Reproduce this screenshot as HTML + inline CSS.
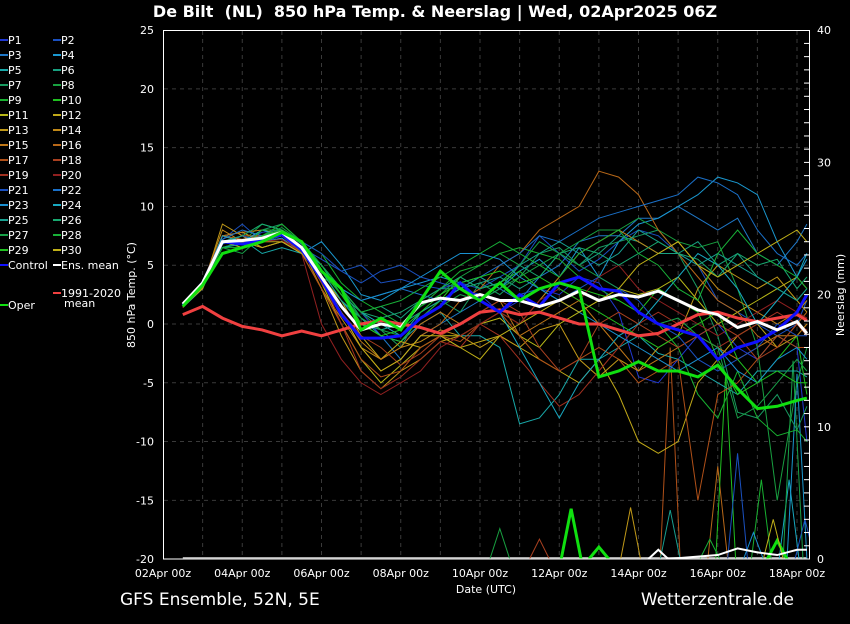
<!DOCTYPE html>
<html><head><meta charset="utf-8">
<style>
html,body{margin:0;padding:0;background:#000;}
body{width:850px;height:620px;overflow:hidden;font-family:"DejaVu Sans","Liberation Sans",sans-serif;}
svg text{font-family:"DejaVu Sans","Liberation Sans",sans-serif;fill:#fff;}
</style></head>
<body>
<svg id="chart" width="850" height="620" viewBox="0 0 850 620" xmlns="http://www.w3.org/2000/svg">
<rect width="850" height="620" fill="#000"/>
<text x="435" y="17" font-size="16" font-weight="bold" text-anchor="middle" style="white-space:pre">De Bilt&#160; (NL)&#160; 850 hPa Temp. &amp; Neerslag | Wed, 02Apr2025 06Z</text>
<g id="grid"></g>
<g id="precip"></g>
<g id="temps"></g>
<rect x="163.5" y="30.5" width="646" height="528.5" fill="none" stroke="#fff" stroke-width="1"/>
<g id="axes"></g>
<text transform="translate(135,295) rotate(-90)" font-size="11" text-anchor="middle">850 hPa Temp. (°C)</text>
<text transform="translate(844,295) rotate(-90)" font-size="11" text-anchor="middle">Neerslag (mm)</text>
<text x="486" y="593" font-size="11" text-anchor="middle">Date (UTC)</text>
<text x="120" y="605" font-size="17">GFS Ensemble, 52N, 5E</text>
<text x="794" y="605" font-size="17" text-anchor="end">Wetterzentrale.de</text>
<g id="legend"></g>
</svg>
<script>
// time axis in days after 02Apr 00z
const days = [0.5,1,1.5,2,2.5,3,3.5,4,4.5,5,5.5,6,6.5,7,7.5,8,8.5,9,9.5,10,10.5,11,11.5,12,12.5,13,13.5,14,14.5,15,15.5,16,16.25];
const xTickLabels = ["02Apr 00z","04Apr 00z","06Apr 00z","08Apr 00z","10Apr 00z","12Apr 00z","14Apr 00z","16Apr 00z","18Apr 00z"];
const xTickDays = [0,2,4,6,8,10,12,14,16];
const yTicks = [25,20,15,10,5,0,-5,-10,-15,-20];
const y2Ticks = [40,30,20,10,0];

const memberNames = ["P1","P2","P3","P4","P5","P6","P7","P8","P9","P10","P11","P12","P13","P14","P15","P16","P17","P18","P19","P20","P21","P22","P23","P24","P25","P26","P27","P28","P29","P30"];
const memberColors = ["#2038d0","#1a50c0","#1f78c8","#1a98d0","#18a8a8","#18a080","#189a60","#18a040","#18b030","#20c020","#b8b818","#c0a818","#c09818","#c08818","#c07818","#b86818","#b05018","#a84020","#a03020","#902020","#1a50c0","#1a70c8","#1a90d0","#18a8c0","#18a090","#18a870","#18a048","#18b038","#20c020","#c0b018"];

const p1 = [1.5,3.2,7.5,7,7.8,8,6.8,5,3,1,-1,-1.5,0.5,2,3,2.5,1,2,3,2.5,4,3.5,1,-4.5,-5,-3,-1,0,-2,-3,-1,-2,-10];
const p2 = [1.8,3.6,7.2,8.5,7,7.5,6.5,5.5,4.5,5,3.5,3.8,3.3,3,3.5,3,4,5,7.5,6,4.5,5.5,7,8,7.5,6,5,2,1,0,-1,0,2];
const p3 = [1.6,3.4,7,7.5,6.5,7,6,4.5,2,0,-1,-3,-1,0,1,2,3,2,4,5,7,7.5,7.5,9,9,10,9,8,9,6,5,7,8.5];
const p4 = [1.4,3,6.8,7.5,7,7.3,6,7,5,2.5,2,3,3.5,4,3.5,4,3,4.5,5.5,4,6.5,4,7,8.5,9,10,11,12.5,12,11,7,4,5.5];
const p5 = [1.5,3.3,7,7.2,6,6.5,6,4,2,0.5,-1,-1.5,0,1,-1,-1,-2,-8.5,-8,-6,-3,-3,-2,-1,-2.5,-3,-4,-5,-6,-4,-4,-4,-4.5];
const p6 = [1.7,3.5,6.5,7,7.5,8,6,4.5,2.5,1,1.5,0.5,2,3,3,3.5,4,3,4,6,5,6,7.5,7,6,6,7,5,6,4,3,2,3];
const p7 = [1.6,3.1,6,6.5,8,8.5,7,5,3,0.5,-0.5,-2,1,2,1,3.5,2.5,4,6,6.5,5,6.5,7,7.5,8,6,3,-1,-7.5,-8,-6,-9,-7];
const p8 = [1.5,3.4,6.5,7,8.5,8,7,4.5,3,1,-0.5,0,1.5,2.5,4,5,6,5,7,6,7,8,8,9,8,7,6.5,7,3,-2,-15,-5,-2];
const p9 = [1.7,3.6,7,6.5,7.5,8.5,7,6,3.5,2,1,0,1.5,3,4.5,5,6,6.5,6,5.5,4,3,2,1,0,-2,-6,-8,-4,-8,-9.5,-9,-10];
const p10 = [1.8,3.5,6,6.5,7,7.5,7,4,3,0,-1,-1.5,0.5,2,4,3,3.5,4.5,3,2,3,2.5,2,1,3,2,1,-3,-6,-5,-3,-1,-6];
const p11 = [1.5,3,7,6.5,7,7.5,6.5,3.5,0,-3,-5,-3.5,-2,-1,-1,0,0.5,-1,-2,0,1,2,3,2.5,3,4,2,0,1,2,3,4,3];
const p12 = [1.6,3.3,7.5,7.8,7,7,6,4,2,-1,-3,-1.5,-2,-1,-2,-1.5,-1,-2,-3,-4,-5,-3,-6,-10,-11,-10,-5,-3,-1,0,-2,-1,0];
const p13 = [1.4,3.1,8.5,7.5,6.5,7,6,3,-1,-4,-5.5,-4,-3,-1.5,-1,-2,-1,-2,-0.5,0,-3,-4.5,-3,-4,-2,-1,3,5,4,3,4,2,1];
const p14 = [1.5,3.4,8,7,7.5,7.5,6.5,3,0.5,-2,-3,-2,-1.5,-0.5,-1,0,1,0,2,4,6,7,8,7,6,7,5,3,2,1,0,1,2];
const p15 = [1.7,3.5,7.5,7.8,8,7.6,6,4,1,-1.5,-3,-2,0,1,0,1,2,-1,0,1,2,0,-2,-4,-3,-2,-1,-2,-3,-2,-1,-1,0];
const p16 = [1.6,3.6,7.5,7.2,7.5,7.7,6.5,3.5,1,-2,-4,-3,-1,0,2,3,5,6,8,9,10,13,12.5,11,8,6,4,2,1,-1,-2,0,1];
const p17 = [1.5,3.3,7,7.5,7.5,7.5,6,3,0,-3,-4.5,-4,-2,-1,-1.5,0,1,-1,-3,-4,-3,-2,-3,-5,-4,-3,-15,-6,-5,-3,-1,-2,-2];
const p18 = [1.6,3.4,7.5,7,7,7.8,6.5,3.5,1,-1,-2,-3.5,-2.5,-1,0,1,2,1,-2,-4,-3,0,1,0,-1,-2,-1,0,-1,-3,-2,0,-1];
const p19 = [1.4,3.2,7,7,6.5,7,6.5,4,0,-4,-5.5,-4.5,-3,-1.5,-2,0,-1,-3,-5,-7,-6,-4,-2,0,1,0,-1,-2,-1,0,1,0,-0.5];
const p20 = [1.5,3.5,7.5,7,7,7.2,6,0,-3,-5,-6,-5,-4,-2,-1,0,1,0,2,3,2,4,5,3,2,1,0,-1,0,1,2,1,0.5];
const p21 = [1.6,3.6,7,7.5,7,7.5,7,6,4.5,3.5,4.5,5,4,3.5,3,2,1,2.5,3,2,3,4,3,2,0,-1,-3,-4,-3,-2,0,-1,-1];
const p22 = [1.7,3.5,7.2,8,7.5,7.8,6.5,5,3,2,2.5,3,2.5,2,3,4,5,6,7.5,7,8,9,9.5,10,10.5,11,12.5,12,11,8,6,5,6];
const p23 = [1.5,3.2,7,7,7.5,8,6.5,4.5,3,2,2.5,3,4,5,6,6,5.5,4,3,2,1,0,-1,-2,-3,-4,-3,-2,-4,-5,-3,-2,-3];
const p24 = [1.6,3.4,7.5,7,8,7.5,6.5,5,3,1,0,-1,1,2,3,2,1,-2,-5,-8,-5,-3,-1,0,2,4,6,5,3,0,2,4,6];
const p25 = [1.5,3.3,6.5,6.8,7.5,8,6.8,4.5,2,0,-0.5,0,1,2,3,4,3,5,6,7,6,5,6,8,7,6,5,6,5,4,3,2,3];
const p26 = [1.7,3.5,7,7.5,8.5,8,7,5,2.5,1,0.5,1,2,3,4,3,3.5,5,4,6,6.5,6,5,6,7,6,5.5,4,6,5,5.5,3,4];
const p27 = [1.6,3.4,6.5,6,7.5,8.2,7,4.5,2.5,0.5,-0.5,-1,0.5,1.5,2.5,2,3,4,5,6,5,4,3,1,0,0.5,-1,-2,-8,-7,-5,-3,-4];
const p28 = [1.5,3.3,6.5,6.5,8,8,7,5,3,1,1.5,2,3,4,5,6,7,6,5,4,6,7,8,6,5,3,2,6,8,6,5,4,3];
const p29 = [1.6,3.5,6,6.5,7.5,8,7,4.5,2.5,0,-1,-0.5,1,2.5,3.5,4,4.5,3.5,4,3,2,1,0,-1,-2,-1,0,1,-3,-5,-4,-5,-5];
const p30 = [1.5,3.3,7,7,6.5,7,6,4,1,-2,-4,-3,-1,-1,-2,-3,-1,0,1,2,1,2,3,5,6,7,5,4,5,6,7,8,7];
const members = [p1,p2,p3,p4,p5,p6,p7,p8,p9,p10,p11,p12,p13,p14,p15,p16,p17,p18,p19,p20,p21,p22,p23,p24,p25,p26,p27,p28,p29,p30];

const climMean = [0.8,1.5,0.5,-0.2,-0.5,-1,-0.6,-1,-0.5,0,0.3,0,-0.3,-0.8,0,1,1.2,0.8,1,0.5,0,0,-0.5,-1,-0.8,0,0.8,1,0.5,0.2,0.5,0.8,0.3];
const control = [1.6,3.5,7,6.8,7.2,7.6,6.3,3.8,0.8,-1.2,-1.2,-1.0,0.5,1.5,3.5,2,1,2.5,1.5,3.5,4,3,2.8,1,0,-0.5,-1,-3,-2,-1.5,-0.5,1,2.5];
const ensMean = [1.7,3.5,7,7.1,7.3,7.8,6.5,4,1.5,-0.5,0,-0.3,1.8,2.2,2,2.5,2,2,1.5,2,2.8,2,2.5,2.3,2.8,2,1.2,0.8,-0.3,0.2,-0.5,0.2,-0.8];
const oper = [1.5,3.3,6,6.5,7,7.8,7,4.5,3,-0.5,0.5,-0.5,2,4.5,3,2,3.5,2,3,3.5,3,-4.5,-4,-3.2,-4,-4,-4.5,-3.5,-5.5,-7.2,-7,-6.5,-6.3];

// precipitation spikes (mm): which member index (0-29), or -1 oper
const precipMember = [7,17,-1,12,16,24,15,9,20,8,23,26,3,-1,-1,20,29,22,27];
const precipDay = [8.5,9.5,10.3,11.8,12.8,12.8,14.0,14.2,14.5,15.1,15.8,15.9,16.0,11.0,15.5,16.2,15.4,14.9,13.8];
const precipMM = [2.3,1.5,3.8,3.9,16,3.7,7,14,8,6,6,15,14,0.9,1.4,3,3,2,1.5];
const meanPrecipDay = [12.25,12.5,12.75,14.0,14.5,15.0,15.5,16.0,16.25];
const meanPrecipMM = [0,0.7,0,0.3,0.8,0.5,0.3,0.7,0.7];

const X0=163, PXD=39.625, Y0=324, PXT=11.756, YP0=559, PXP=13.22;
const xs = d => X0 + d*PXD;
const ys = t => Y0 - t*PXT;
const yp = p => YP0 - p*PXP;
const NS="http://www.w3.org/2000/svg";
function mk(tag, parent, attrs){const e=document.createElementNS(NS,tag);for(const k in attrs)e.setAttribute(k,attrs[k]);parent.appendChild(e);return e;}

const grid=document.getElementById('grid');
for(let d=1; d<=16; d++){
  const l=mk('line',grid,{x1:xs(d),x2:xs(d),y1:31,y2:558,stroke:'#3a3a3a','stroke-dasharray':'4,4'});
  
  
}
yTicks.forEach(t=>{ if(t===25||t===-20)return;
  const l=mk('line',grid,{x1:164,x2:809,y1:ys(t),y2:ys(t),stroke:'#3a3a3a','stroke-dasharray':'4,4'});
  
  
});

const axes=document.getElementById('axes');
yTicks.forEach(t=>{
  const tx=mk('text',axes,{x:154,y:ys(t)+4,'font-size':11,'text-anchor':'end'});tx.textContent=t;
  
  
});
y2Ticks.forEach(p=>{
  const tx=mk('text',axes,{x:817,y:yp(p)+4,'font-size':11});tx.textContent=p;
  
  
});
for(let p=1;p<40;p++){
  const l=mk('line',axes,{x1:804,x2:810,y1:yp(p),y2:yp(p),stroke:'#fff'});
  
  
}
xTickDays.forEach((d,i)=>{
  const tx=mk('text',axes,{x:xs(d),y:577,'font-size':11,'text-anchor':'middle'});tx.textContent=xTickLabels[i];
  
  
});

function pts(arr){return arr.map((v,i)=>xs(days[i]).toFixed(1)+','+ys(v).toFixed(1)).join(' ');}
const temps=document.getElementById('temps');
temps.setAttribute('clip-path','url(#clip)');
const defs=mk('defs',document.getElementById('chart'),{});
const cp=mk('clipPath',defs,{id:'clip'});mk('rect',cp,{x:164,y:31,width:645,height:528});

members.forEach((m,i)=>{
  const pl=mk('polyline',temps,{points:pts(m),fill:'none',stroke:memberColors[i],'stroke-width':1});
  
  
});
const clim=mk('polyline',temps,{points:pts(climMean),fill:'none',stroke:'#f04040','stroke-width':3});


const ctl=mk('polyline',temps,{points:pts(control),fill:'none',stroke:'#1010ff','stroke-width':3});


const mn=mk('polyline',temps,{points:pts(ensMean),fill:'none',stroke:'#ffffff','stroke-width':3});


const op=mk('polyline',temps,{points:pts(oper),fill:'none',stroke:'#10e010','stroke-width':3});



const precip=document.getElementById('precip');
precip.setAttribute('clip-path','url(#clip)');
const base=mk('line',precip,{x1:xs(0.5),x2:xs(16.25),y1:yp(0)-1,y2:yp(0)-1,stroke:'#aaaaaa','stroke-width':2});


precipMember.forEach((m,i)=>{
  const d=precipDay[i], v=precipMM[i];
  const col = m<0 ? '#10e010' : memberColors[m];
  const pl=mk('polyline',precip,{points:`${xs(d-0.25)},${yp(0)} ${xs(d)},${yp(v)} ${xs(d+0.25)},${yp(0)}`,fill:'none',stroke:col,'stroke-width':m<0?3:1});
  
  
});
const mp=mk('polyline',precip,{points:meanPrecipDay.map((d,i)=>xs(d)+','+yp(meanPrecipMM[i])).join(' '),fill:'none',stroke:'#fff','stroke-width':2});



// legend
const leg=document.getElementById('legend');
memberNames.forEach((n,i)=>{
  const col=i%2, row=Math.floor(i/2);
  const lx = col===0?0:53, ly = 40+row*15;
  const g=mk('g',leg,{});
  
  
  mk('line',g,{x1:lx,x2:lx+8,y1:ly,y2:ly,stroke:memberColors[i],'stroke-width':2});
  const t=mk('text',g,{x:lx+8,y:ly+4,'font-size':11});t.textContent=n;
});
function extra(name,lx,ly,col,label,label2){
  const g=mk('g',leg,{});
  
  
  mk('line',g,{x1:lx,x2:lx+8,y1:ly,y2:ly,stroke:col,'stroke-width':2});
  const t=mk('text',g,{x:lx+8,y:ly+4,'font-size':11});t.textContent=label;
  if(label2){const t2=mk('text',g,{x:lx+11,y:ly+14,'font-size':11});t2.textContent=label2;}
}
extra('legend-entry-control',0,265,'#1010ff','Control');
extra('legend-entry-ens-mean',53,265,'#ffffff','Ens. mean');
extra('legend-entry-climatology',53,293,'#f04040','1991-2020','mean');
extra('legend-entry-oper',0,305,'#10e010','Oper');
</script>
</body></html>
